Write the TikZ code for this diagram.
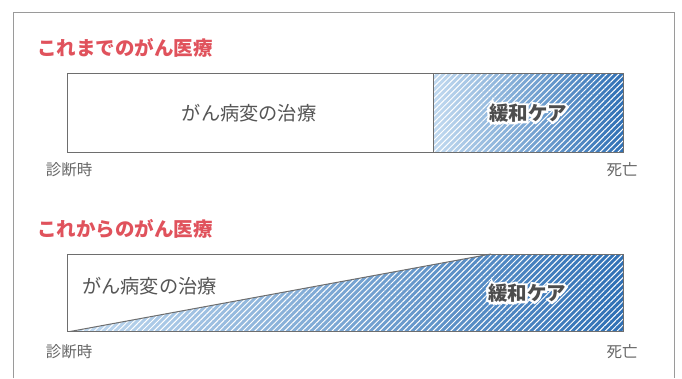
\documentclass[tikz,border=0pt]{standalone}
\usepackage{fontspec}
\setmainfont{Noto Sans CJK JP}
\newfontfamily\halofont{Noto Sans CJK JP}[FakeBold=22]
\usetikzlibrary{patterns.meta,calc}
\definecolor{titlec}{HTML}{E0525C}
\definecolor{textc}{HTML}{555555}
\definecolor{carec}{HTML}{4D4D4D}
\definecolor{labelc}{HTML}{666666}
\definecolor{framec}{HTML}{9A9A9A}
\definecolor{boxc}{HTML}{6E6E6E}
\definecolor{blight}{HTML}{C2DAF0}
\definecolor{bdark}{HTML}{2F70B5}
\tikzset{
  titletext/.style={font=\bfseries\fontsize{19.5}{21}\selectfont, text=titlec, inner sep=0pt},
  bodytext/.style={font=\fontsize{19.2}{21}\selectfont, text=textc, inner sep=0pt},
  caretext/.style={font=\bfseries\fontsize{19.5}{21}\selectfont, text=carec, inner sep=0pt},
  halotext/.style={font=\halofont\bfseries\fontsize{19.5}{21}\selectfont, text=white, inner sep=0pt},
  labeltext/.style={font=\fontsize{15.5}{17}\selectfont, text=labelc, inner sep=0pt},
  boxline/.style={draw=boxc, line width=1pt},
  hatch/.style={pattern={Lines[angle=45,distance=4.2pt,line width=1pt]}, pattern color=white, fill opacity=0.55},
  bluegrad/.style={left color=blight, right color=bdark}
}
\begin{document}
\begin{tikzpicture}[x=1pt,y=-1pt]
\useasboundingbox (0,0) rectangle (682,378);
\fill[white] (0,0) rectangle (682,378);
\draw[framec, line width=1pt] (13,378) -- (13,12.5) -- (674,12.5) -- (674,378);

% ---- upper panel ----
\coordinate (a1) at (67,73.5);
\coordinate (a2) at (623,152);
\coordinate (d1) at (433,73.5);
\coordinate (d2) at (433,152);
\node[titletext, anchor=west] (t1) at (37,48) {これまでのがん医療};
\shade[bluegrad] (d1) rectangle (a2);
\fill[hatch] (d1) rectangle (a2);
\draw[boxline] (a1) rectangle (a2);
\draw[boxline] (d1) -- (d2);
\node[bodytext] (c1) at (249,113) {がん病変の治療};
\node[halotext] (h1) at (528,113) {緩和ケア};
\node[caretext] (p1) at (h1) {緩和ケア};
\node[labeltext] (s1) at (69,170) {診断時};
\node[labeltext] (e1) at (622,170) {死亡};

% ---- lower panel ----
\coordinate (b1) at (67,254);
\coordinate (b2) at (623,331.5);
\coordinate (g0) at (70,331.5);
\coordinate (g1) at (491,254);
\coordinate (g2) at (623,254);
\node[titletext, anchor=west] (t2) at (37,229) {これからのがん医療};
\shade[bluegrad] (g0) -- (g1) -- (g2) -- (b2) -- cycle;
\fill[hatch] (g0) -- (g1) -- (g2) -- (b2) -- cycle;
\draw[boxline] (b1) rectangle (b2);
\draw[boxline] (g0) -- (g1);
\node[bodytext, anchor=west] (c2) at (82,286) {がん病変の治療};
\node[halotext] (h2) at (527,293) {緩和ケア};
\node[caretext] (p2) at (h2) {緩和ケア};
\node[labeltext] (s2) at (69,352) {診断時};
\node[labeltext] (e2) at (622,352) {死亡};
\end{tikzpicture}
\end{document}
